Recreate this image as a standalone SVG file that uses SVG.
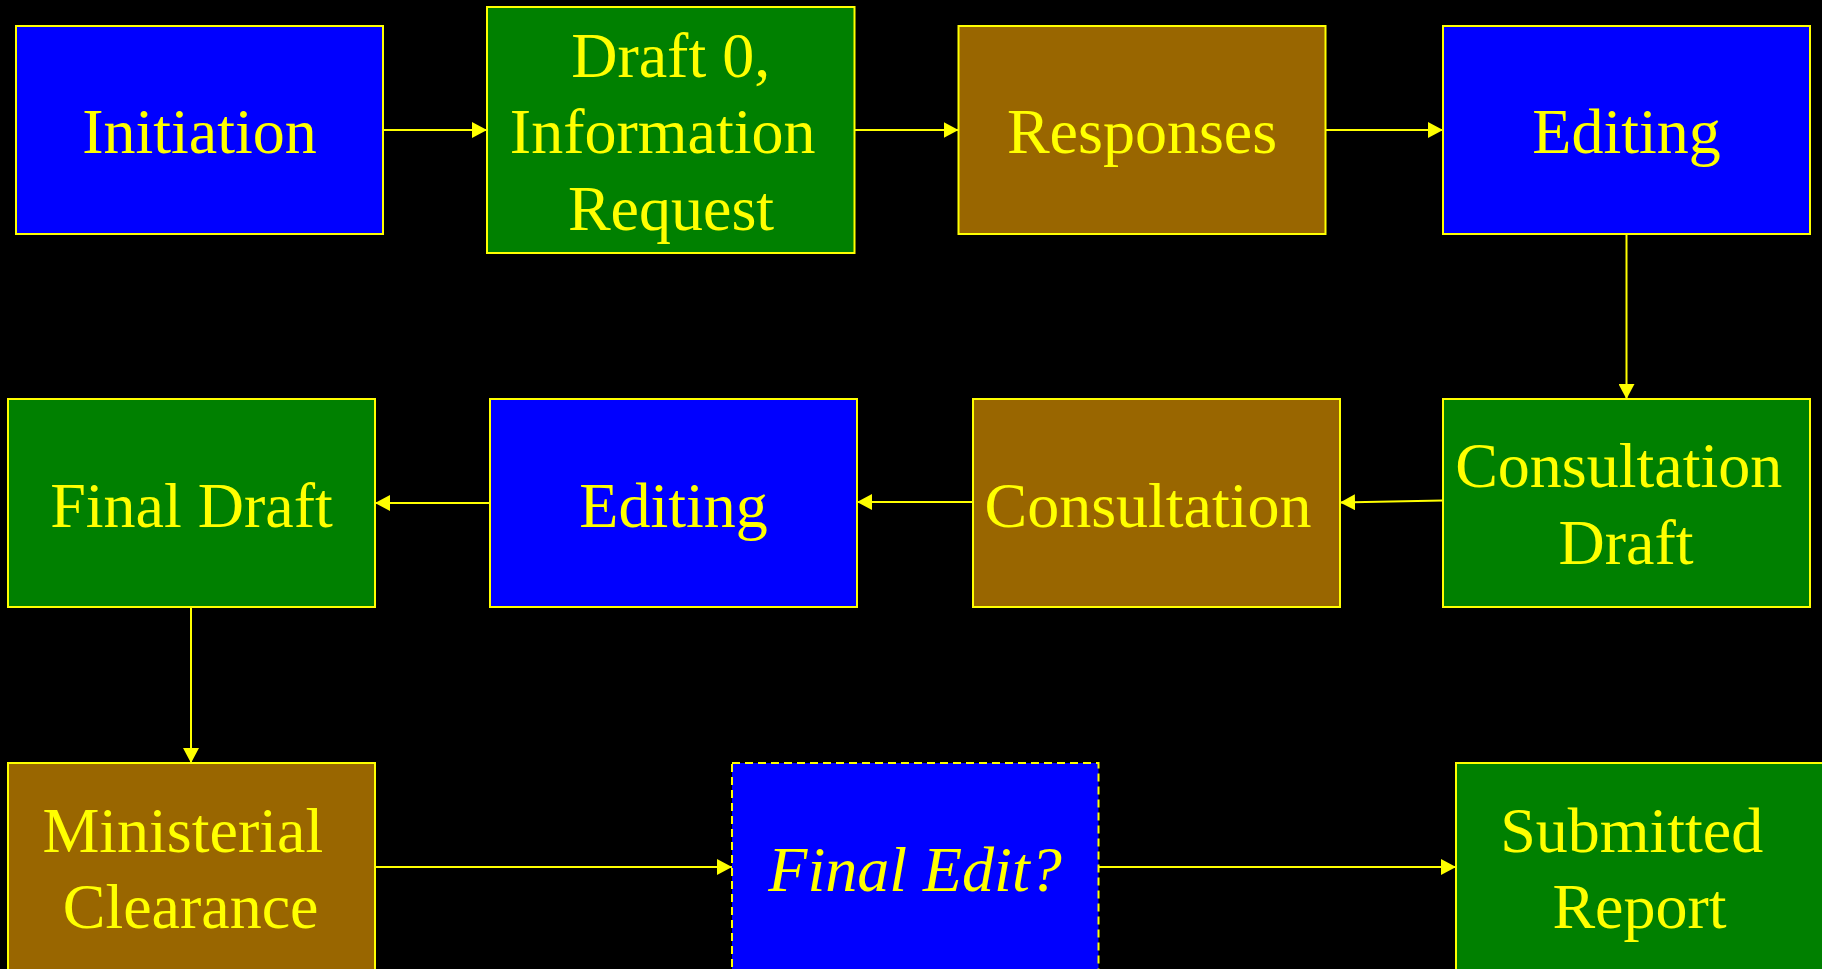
<svg xmlns="http://www.w3.org/2000/svg" width="1822" height="969" viewBox="0 0 1822 969">
<style>
.bx{stroke:#FFFF00;stroke-width:2}
.blue{fill:#0000FF}.green{fill:#008000}.brown{fill:#996600}
.dash{stroke-dasharray:8,5}
text{font-family:"Liberation Serif","Times New Roman",serif;font-size:64px;fill:#FFFF00;text-anchor:middle}
.it{font-style:italic}
.cn{stroke:#FFFF00;stroke-width:2;fill:none;marker-end:url(#ah)}
</style>
<defs>
<marker id="ah" markerUnits="userSpaceOnUse" markerWidth="16" markerHeight="16" refX="15" refY="8" orient="auto">
<path d="M0,0 L15,8 L0,16 z" fill="#FFFF00"/>
</marker>
</defs>
<rect x="0" y="0" width="1822" height="969" fill="#000000"/>
<g id="connectors">
<line class="cn" x1="383" y1="130" x2="487" y2="130"/>
<line class="cn" x1="854.5" y1="130" x2="958.5" y2="130"/>
<line class="cn" x1="1325.5" y1="130" x2="1443" y2="130"/>
<line class="cn" x1="1626.5" y1="234" x2="1626.5" y2="399"/>
<line class="cn" x1="1443" y1="500.5" x2="1340" y2="502.5"/>
<line class="cn" x1="973" y1="502" x2="857" y2="502"/>
<line class="cn" x1="490" y1="503" x2="375" y2="503"/>
<line class="cn" x1="191" y1="607" x2="191" y2="763"/>
<line class="cn" x1="375" y1="867" x2="732" y2="867"/>
<line class="cn" x1="1098.5" y1="867" x2="1456" y2="867"/>
</g>
<g id="initiation">
<rect class="bx blue" x="16" y="26" width="367" height="208"/>
<text x="199.5" y="153">Initiation</text>
</g>
<g id="draft0">
<rect class="bx green" x="487" y="7" width="367.5" height="246"/>
<text x="670.7" y="77">Draft 0,</text>
<text x="662.7" y="153">Information</text>
<text x="671" y="230">Request</text>
</g>
<g id="responses">
<rect class="bx brown" x="958.5" y="26" width="367" height="208"/>
<text x="1142" y="153">Responses</text>
</g>
<g id="editing1">
<rect class="bx blue" x="1443" y="26" width="367" height="208"/>
<text x="1626.5" y="153">Editing</text>
</g>
<g id="consultation-draft">
<rect class="bx green" x="1443" y="399" width="367" height="208"/>
<text x="1618.7" y="487">Consultation</text>
<text x="1626" y="564">Draft</text>
</g>
<g id="consultation">
<rect class="bx brown" x="973" y="399" width="367" height="208"/>
<text x="1148" y="527">Consultation</text>
</g>
<g id="editing2">
<rect class="bx blue" x="490" y="399" width="367" height="208"/>
<text x="673.5" y="527">Editing</text>
</g>
<g id="final-draft">
<rect class="bx green" x="8" y="399" width="367" height="208"/>
<text x="191.5" y="527">Final Draft</text>
</g>
<g id="ministerial-clearance">
<rect class="bx brown" x="8" y="763" width="367" height="210"/>
<text x="182.8" y="852">Ministerial</text>
<text x="190.6" y="928">Clearance</text>
</g>
<g id="final-edit">
<rect class="bx blue dash" x="732" y="763" width="366.5" height="210"/>
<text class="it" x="915" y="891">Final Edit?</text>
</g>
<g id="submitted-report">
<rect class="bx green" x="1456" y="763" width="367" height="210"/>
<text x="1631.7" y="852">Submitted</text>
<text x="1639.5" y="928">Report</text>
</g>
</svg>
